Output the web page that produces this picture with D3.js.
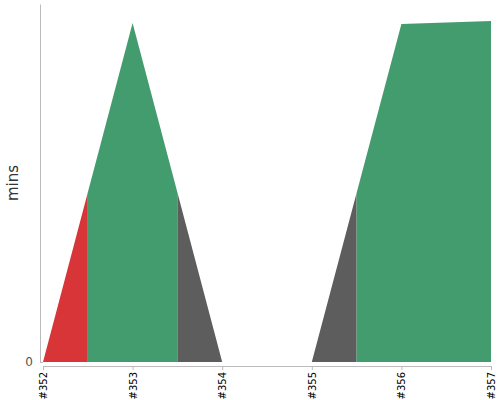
<!DOCTYPE html>
<html><head><meta charset="utf-8">
<script src="https://cdn.jsdelivr.net/npm/d3@7/dist/d3.min.js"></script>
<style>
body{margin:0;background:#fff;}
svg{display:block;}
text{font-family:'DejaVu Sans';}
</style></head>
<body><svg id="c" width="500" height="400"></svg>
<script>
const builds = ["#352","#353","#354","#355","#356","#357"];
const durations = [0, 10.04, 0, 0, 10.01, 10.1];
const statuses = ["failure","success","aborted","aborted","success","success"];
const yTicks = [0];
const statusColors = {failure:"#d73538", success:"#439c6e", aborted:"#5d5d5d"};

const svg = d3.select("#c");
const x = d3.scaleLinear().domain([0, builds.length-1]).range([43, 491]);
const y = d3.scaleLinear().domain([0, 10.6]).range([362, 4]);

const n = builds.length;
const valAt = t => {
  const i = Math.min(Math.floor(t), n-2);
  const f = t - i;
  return durations[i]*(1-f) + durations[i+1]*f;
};
// merge consecutive builds with the same status into one segment
const segs = [];
builds.forEach((b,i)=>{
  const a = Math.max(i-0.5,0), e = Math.min(i+0.5,n-1);
  const last = segs[segs.length-1];
  if (last && last.status===statuses[i]) {
    last.pts.pop();
    last.pts.push({t:i,v:durations[i]});
    if (e>i) last.pts.push({t:e,v:valAt(e)});
  } else {
    const pts=[{t:a,v:valAt(a)}];
    if (i>a && i<e) pts.push({t:i,v:durations[i]});
    if (i===e && i>a) pts.push({t:i,v:durations[i]});
    if (e>i) pts.push({t:e,v:valAt(e)});
    segs.push({status:statuses[i], pts});
  }
});
const area = d3.area().x(d=>x(d.t)).y0(y(0)).y1(d=>y(d.v));
svg.append("g").selectAll("path").data(segs).join("path")
  .attr("d", d=>area(d.pts))
  .attr("fill", d=>statusColors[d.status]);

// x axis
const xa = svg.append("g").attr("transform","translate(0,366)")
  .call(d3.axisBottom(x).tickValues(d3.range(n)).tickFormat(i=>builds[i]).tickSize(4).tickSizeOuter(4));
xa.attr("font-family",null);
xa.selectAll("path,line").attr("stroke","#bbb");
xa.selectAll("text").attr("transform","rotate(-90)").attr("text-anchor","end")
  .attr("x",-6).attr("y",0).attr("dy","0.35em").attr("font-size",10).attr("fill","#000");

// y axis
const ya = svg.append("g").attr("transform","translate(40,0)")
  .call(d3.axisLeft(y).tickValues(yTicks).tickSize(-3).tickSizeOuter(0));
ya.attr("font-family",null);
ya.selectAll("path,line").attr("stroke","#bbb");
ya.selectAll("text").attr("x",-7).attr("font-size",12).attr("fill","#555");

svg.append("text").attr("transform","translate(18,183) rotate(-90)")
  .attr("text-anchor","middle").attr("font-size",15).attr("fill","#333").text("mins");
</script></body></html>
